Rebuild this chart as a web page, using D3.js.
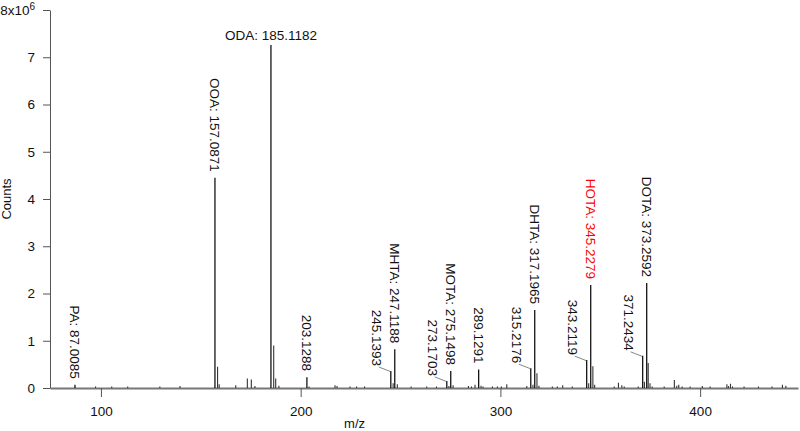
<!DOCTYPE html>
<html>
<head>
<meta charset="utf-8">
<script src="https://cdn.jsdelivr.net/npm/d3@7"></script>
<style>
  body { margin: 0; background: #fff; }
  svg text { font-family: "Liberation Sans", Arial, sans-serif; }
</style>
</head>
<body>
<div id="chart"></div>
<script>

var width = 800;
var height = 431;

// labelled peaks (counts in units of 1e6)
var labelMz = [87.0085, 157.0871, 185.1182, 203.1288, 245.1393, 247.1188, 273.1703, 275.1498,
  289.1291, 315.2176, 317.1965, 343.2119, 345.2279, 371.2434, 373.2592];
var labelCounts = [0.07, 4.45, 7.26, 0.23, 0.36, 0.82, 0.15, 0.36,
  0.39, 0.42, 1.65, 0.59, 2.18, 0.68, 2.22];
var labelNames = ["PA", "OOA", "ODA", "", "", "MHTA", "", "MOTA",
  "", "", "DHTA", "", "HOTA", "", "DOTA"];

// unlabelled peaks
var minorMz = [97.3, 105.4, 113.4, 129.5, 139.6, 158.4, 159.2, 167.5, 173.3, 175.3, 177.1,
  186.5, 187.5, 189.1, 204.2, 217.2, 218.2, 224.7, 228, 232, 246.3, 248.4, 255.3, 263.1,
  268, 274.2, 276.3, 284, 285.5, 287.3, 290.3, 291.3, 296, 298.5, 300.5, 303.2, 313.2,
  316.3, 318.3, 319.3, 326, 328.5, 331.2, 336, 344.2, 346.3, 347.2, 357, 359.1, 360.8,
  362, 369, 372.1, 374, 374.9, 376, 382, 387.1, 388.3, 389.3, 391, 395, 401.1, 405,
  413.4, 414.2, 415.2, 416.2, 422, 429.2, 436, 441.2, 442.9];
var minorCounts = [0.01, 0.01, 0.02, 0.02, 0.04, 0.45, 0.08, 0.06, 0.2, 0.18, 0.04,
  0.9, 0.2, 0.05, 0.03, 0.06, 0.04, 0.02, 0.02, 0.01, 0.1, 0.08, 0.02, 0.02,
  0.01, 0.04, 0.06, 0.04, 0.03, 0.07, 0.05, 0.02, 0.02, 0.02, 0.02, 0.08, 0.04,
  0.07, 0.31, 0.05, 0.02, 0.02, 0.06, 0.01, 0.1, 0.46, 0.07, 0.02, 0.11, 0.06,
  0.02, 0.02, 0.13, 0.53, 0.1, 0.03, 0.02, 0.17, 0.05, 0.07, 0.02, 0.01, 0.04, 0.01,
  0.08, 0.04, 0.09, 0.02, 0.01, 0.02, 0.01, 0.07, 0.05];

var xTicks = [100, 200, 300, 400];
var yTicks = [0, 1, 2, 3, 4, 5, 6, 7, 8];

// label layout choices
var leaderLabels = ["245.1393", "273.1703", "315.2176", "343.2119", "371.2434"];
var horizontalLabel = "ODA";
var highlightLabel = "HOTA";

var x = d3.scaleLinear().domain([74.5, 449]).range([50, 798]);
var y = d3.scaleLinear().domain([0, 8]).range([388, 10]);

var svg = d3.select('#chart').append('svg')
  .attr('width', width)
  .attr('height', height);

// axes
var xAxis = svg.append('g')
  .attr('transform', 'translate(0,' + y(0) + ')')
  .call(d3.axisBottom(x).tickValues(xTicks).tickSize(9).tickPadding(9).tickSizeOuter(0));
xAxis.select('.domain').attr('stroke', '#777').attr('stroke-width', 2);
xAxis.selectAll('.tick line').attr('stroke', '#555');
xAxis.selectAll('.tick text').attr('font-size', 13.5).attr('fill', '#111');

var yAxis = svg.append('g')
  .attr('transform', 'translate(' + x.range()[0] + ',0)')
  .call(d3.axisLeft(y).tickValues(yTicks).tickSize(7).tickPadding(8).tickSizeOuter(0)
    .tickFormat(function (d) { return d === 8 ? '' : d; }));
yAxis.select('.domain').attr('stroke', '#555');
yAxis.selectAll('.tick line').attr('stroke', '#555');
yAxis.selectAll('.tick text').attr('font-size', 13.5).attr('fill', '#111');

// top tick label 8x10^6
var topTick = yAxis.selectAll('.tick').filter(function (d) { return d === 8; }).select('text');
topTick.append('tspan').text('8x10');
topTick.append('tspan').attr('dy', '-0.5em').attr('font-size', 10).text('6');

svg.append('text')
  .attr('transform', 'translate(11,' + y(4) + ') rotate(-90)')
  .attr('text-anchor', 'middle')
  .attr('font-size', 13)
  .attr('fill', '#111')
  .text('Counts');

svg.append('text')
  .attr('x', x(227))
  .attr('y', 428)
  .attr('text-anchor', 'middle')
  .attr('font-size', 13)
  .attr('fill', '#111')
  .text('m/z');

// peaks
var minor = minorMz.map(function (m, i) { return { mz: m, c: minorCounts[i] }; });
var major = labelMz.map(function (m, i) {
  return { mz: m, c: labelCounts[i], name: labelNames[i], num: m.toFixed(4) };
});

svg.append('g').selectAll('line')
  .data(minor)
  .enter().append('line')
  .attr('x1', function (d) { return x(d.mz); })
  .attr('x2', function (d) { return x(d.mz); })
  .attr('y1', y(0))
  .attr('y2', function (d) { return Math.min(y(d.c), y(0) - 1.5); })
  .attr('stroke', '#333')
  .attr('stroke-width', 1.1);

svg.append('g').selectAll('line')
  .data(major)
  .enter().append('line')
  .attr('x1', function (d) { return x(d.mz); })
  .attr('x2', function (d) { return x(d.mz); })
  .attr('y1', y(0))
  .attr('y2', function (d) { return y(d.c); })
  .attr('stroke', '#000')
  .attr('stroke-width', 1.2);

// peak labels
var lab = svg.append('g').selectAll('g')
  .data(major)
  .enter().append('g');

lab.each(function (d) {
  var g = d3.select(this);
  var txt = d.name ? d.name + ': ' + d.num : d.num;
  var px = x(d.mz), py = y(d.c);
  var col = d.name === highlightLabel ? '#f00' : '#111';
  if (d.name === horizontalLabel) {
    g.append('text')
      .attr('x', px)
      .attr('y', py - 5)
      .attr('text-anchor', 'middle')
      .attr('font-size', 13.5)
      .attr('fill', col)
      .text(txt);
  } else if (leaderLabels.indexOf(d.num) >= 0) {
    var lx = px - 14, ly = py - 5;
    g.append('line')
      .attr('x1', lx + 2).attr('y1', ly + 1)
      .attr('x2', px - 0.5).attr('y2', py + 0.5)
      .attr('stroke', '#666')
      .attr('stroke-width', 0.8);
    g.append('text')
      .attr('transform', 'translate(' + lx + ',' + ly + ') rotate(90)')
      .attr('dy', '0.35em')
      .attr('text-anchor', 'end')
      .attr('font-size', 13.5)
      .attr('fill', col)
      .text(txt);
  } else {
    g.append('text')
      .attr('transform', 'translate(' + px + ',' + (py - 6) + ') rotate(90)')
      .attr('dy', '0.35em')
      .attr('text-anchor', 'end')
      .attr('font-size', 13.5)
      .attr('fill', col)
      .text(txt);
  }
});

</script>
</body>
</html>
